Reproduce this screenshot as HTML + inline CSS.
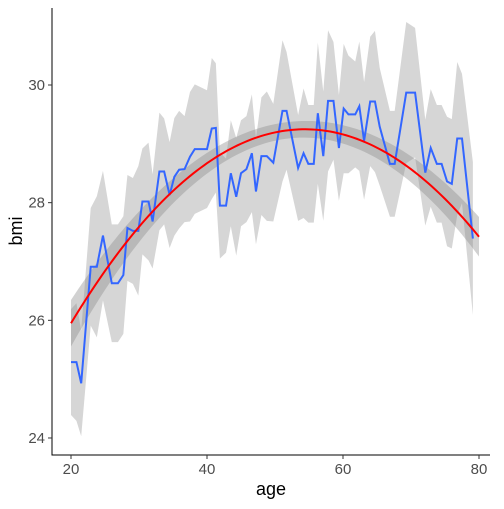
<!DOCTYPE html>
<html><head><meta charset="utf-8"><style>
html,body{margin:0;padding:0;background:#fff}
svg text{font-family:"Liberation Sans",sans-serif}
</style></head><body>
<svg id="chart" width="504" height="504">
<g id="ribbon"></g>
<g id="band"></g>
<g id="lines"></g>
<g id="axes"></g>
</svg>
<script>
const ages=[20,20.8,21.5,22.9,23.8,24.7,26.0,26.9,27.7,28.3,29.1,29.9,30.5,31.4,32.0,33.0,33.7,34.5,35.2,35.9,36.7,37.5,38.2,40.0,40.7,41.3,41.9,42.8,43.5,44.3,45.0,45.8,46.6,47.2,48.0,48.8,49.75,51.1,51.7,53.4,54.2,54.9,55.7,56.3,57.1,57.8,58.6,59.4,60.1,60.8,61.8,62.4,63.1,64.0,64.7,65.4,66.9,67.6,69.3,70.6,72.1,72.9,73.8,74.5,75.3,76.0,76.8,77.5,79.1];
const bmiMean=[25.29,25.29,24.93,26.91,26.91,27.44,26.63,26.63,26.77,27.57,27.52,27.52,28.02,28.02,27.68,28.53,28.53,28.13,28.44,28.56,28.57,28.78,28.91,28.91,29.26,29.27,27.95,27.95,28.50,28.10,28.50,28.57,28.84,28.19,28.79,28.79,28.68,29.56,29.56,28.59,28.84,28.66,28.66,29.52,28.79,29.73,29.73,28.93,29.60,29.50,29.50,29.64,29.05,29.72,29.72,29.29,28.66,28.66,29.87,29.87,28.51,28.93,28.66,28.66,28.36,28.32,29.09,29.09,27.39];
const ribbonHalf=[0.9,1.0,0.9,1.0,1.2,1.1,1.0,1.0,1.0,0.9,0.9,1.1,0.9,1.0,0.8,1.0,0.9,0.9,1.0,1.0,0.9,1.1,1.1,1.0,1.2,1.1,0.9,0.8,0.9,1.0,0.9,0.9,1.0,0.9,1.0,1.1,1.0,1.2,1.0,0.9,1.1,1.0,1.0,1.2,1.1,1.2,1.0,0.9,1.1,1.0,0.9,1.1,1.0,1.1,1.2,1.0,0.9,0.9,1.2,1.1,0.9,1.0,1.0,1.0,1.1,1.1,1.3,1.1,1.3];
const smoothCoef=[21.0,0.30325,-0.0027875];
const xTicks=[20,40,60,80];
const yTicks=[24,26,28,30];
const L=52,R=490,T=8,B=455;
const X=a=>71+(a-20)*6.8;
const Y=v=>85+(30-v)*58.83;
const NS="http://www.w3.org/2000/svg";
function mk(tag,parent,attrs){const e=document.createElementNS(NS,tag);for(const k in attrs)e.setAttribute(k,attrs[k]);parent.appendChild(e);return e;}
let up=ages.map((a,i)=>X(a)+","+Y(bmiMean[i]+ribbonHalf[i]));
let lo=ages.map((a,i)=>X(a)+","+Y(bmiMean[i]-ribbonHalf[i])).reverse();
const rib=mk("polygon",document.getElementById("ribbon"),{points:up.concat(lo).join(" "),fill:"#d6d6d6"});


const f=a=>smoothCoef[0]+smoothCoef[1]*a+smoothCoef[2]*a*a;
const se=a=>0.14+0.00025*(a-52)*(a-52);
let sx=[];for(let a=20;a<=80.001;a+=0.5)sx.push(a);
const bu=sx.map(a=>X(a)+","+Y(f(a)+se(a)));
const bl=sx.map(a=>X(a)+","+Y(f(a)-se(a))).reverse();
const band=mk("polygon",document.getElementById("band"),{points:bu.concat(bl).join(" "),fill:"rgba(140,140,140,0.4)"});


const lg=document.getElementById("lines");
const blue=mk("polyline",lg,{points:ages.map((a,i)=>X(a)+","+Y(bmiMean[i])).join(" "),fill:"none",stroke:"#3366ff","stroke-width":2});


const red=mk("polyline",lg,{points:sx.map(a=>X(a)+","+Y(f(a))).join(" "),fill:"none",stroke:"#ff0000","stroke-width":2});


const ax=document.getElementById("axes");
mk("line",ax,{x1:L,y1:T,x2:L,y2:B+0.5,stroke:"#000","stroke-width":1});
mk("line",ax,{x1:L-0.5,y1:B,x2:R,y2:B,stroke:"#000","stroke-width":1});
xTicks.forEach(t=>{
  mk("line",ax,{x1:X(t),y1:B,x2:X(t),y2:B+4,stroke:"#333"});
  const tx=mk("text",ax,{x:X(t),y:B+19,"text-anchor":"middle","font-size":15,fill:"#4d4d4d"});tx.textContent=t;
  
  
});
yTicks.forEach(t=>{
  mk("line",ax,{x1:L-4,y1:Y(t),x2:L,y2:Y(t),stroke:"#333"});
  const tx=mk("text",ax,{x:L-7,y:Y(t)+5,"text-anchor":"end","font-size":15,fill:"#4d4d4d"});tx.textContent=t;
  
  
});
const xt=mk("text",ax,{x:271,y:495,"text-anchor":"middle","font-size":18,fill:"#000"});xt.textContent="age";


const yt=mk("text",ax,{x:0,y:0,"text-anchor":"middle","font-size":18,fill:"#000",transform:"translate(22,231) rotate(-90)"});yt.textContent="bmi";


</script>
</body></html>
